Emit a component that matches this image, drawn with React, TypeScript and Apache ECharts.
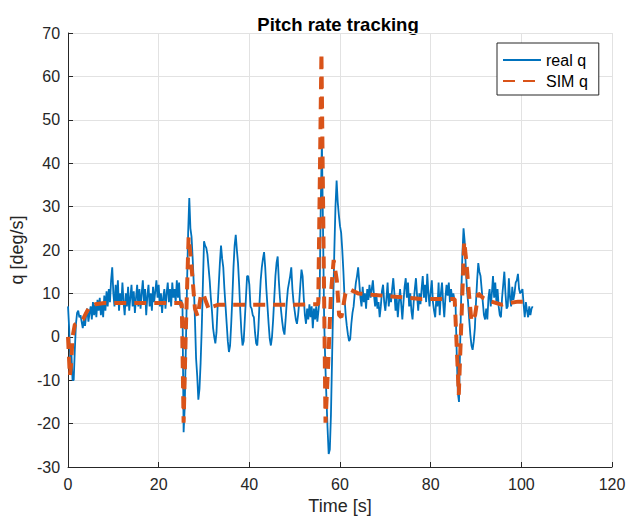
import React, { useEffect, useRef } from "react";
import * as echarts from "echarts";

const FONT = "'Liberation Sans', Arial, Helvetica, sans-serif";

const TITLE = "Pitch rate tracking";
const X_NAME = "Time [s]";
const Y_NAME = "q [deg/s]";
const SERIES_NAMES = ["real q", "SIM q"];

const X_MIN = 0;
const X_MAX = 120;
const X_STEP = 20;
const Y_MIN = -30;
const Y_MAX = 70;
const Y_STEP = 10;

// real q sampled every 0.25 s, from t = 0 s to t = 102.5 s
const TIME_STEP = 0.25;
const realQ = [
  7, 2, -6, -4, -10, -10, -3, 3, 5.5, 6, 4.5, 5, 3.5, 2, 4, 2.5, 5, 6.5, 3.5, 5.5,
  7, 4, 8, 5, 7.5, 4.5, 8.5, 6, 9, 5, 8, 4.5, 9.5, 6, 10.5, 7, 11, 8, 13, 16,
  10, 7, 12, 8, 13, 6, 10, 7.5, 12.5, 8, 5, 10, 7, 11.5, 6, 9, 12, 7, 10.5, 5.5,
  9, 12, 7, 11, 6.5, 10, 13, 8, 11, 5, 9.5, 12, 7, 10, 6, 11.5, 8, 10.5, 13, 9,
  12, 7, 10, 5.5, 9, 11, 6.5, 10, 12.5, 8, 11, 7, 12.5, 9, 11, 8, 13, 9, 12.5, 7,
  8.5, 7, -22, -16, -2, 12, 24, 32, 25, 23, 18, 12, 4, -5, -9, -14.5, -12, -6, 2, 12,
  22, 21, 20.5, 19, 16, 13, 9, 6, 2, 0, -1.5, 1, 7, 12, 17, 21, 18, 16, 11, 7,
  3, -1, -3.5, -2, 3, 9, 16, 21, 23.5, 20, 17, 12, 6, 1, -2, -1, 4, 9, 14, 14,
  12, 7, 6.5, 5, 4.5, 1, -1.5, -2, 2, 8, 13, 16, 18, 19.5, 16, 11, 7, 3, -0.5, -2,
  0, 4, 9, 14, 17, 18.5, 13, 9, 6, 3.5, 1.5, 0.5, 4, 8, 11, 12.5, 14, 16, 11, 8,
  6, 4, 3, 5, 8, 12, 15.5, 14, 9, 5, 3, 6.5, 4, 7.5, 4.5, 7, 2, 6.5, 4, 7,
  3.5, 6, 9, 30, 45, 25, 4, -6, -14, -21, -27, -26, -18, -5, 8, 20, 30, 36, 31, 28,
  25.5, 24, 20, 15, 9, 5, 2.5, 0.5, -1, -0.5, 3, 5.5, 7, 10, 12.5, 14, 16, 12.5, 9, 7,
  11.5, 8, 10, 6.5, 11, 8.5, 12, 9, 11, 13, 9.5, 7, 10, 6.5, 8, 4.5, 7, 10.5, 12, 8,
  6, 9, 12.5, 7, 10, 8, 11, 13.5, 10, 6, 9, 4.5, 8, 11, 7.5, 4, 8, 11.5, 13.5, 9,
  12.5, 7, 10, 6, 4, 8, 11, 13.5, 9.5, 6, 10, 7.5, 11, 14, 9, 12, 8, 14.5, 10, 7,
  10.5, 13, 8, 6, 4.5, 9, 7, 12.5, 5, 10, 12.5, 8, 4.5, 9, 12, 9.5, 12.5, 8, 11, 8.5,
  10, 8.5, 7, -4, -13, -15, -2, 10, 19, 25, 22, 16, 11, 8, 4, 0.5, -2, -3, -1, 2,
  8, 13, 17, 15, 14, 11, 8, 5, 4, 6.5, 4, 9, 11, 7, 10, 14, 9, 12.5, 8, 11,
  7, 5, 4.5, 9, 12, 15, 10, 6.5, 7, 13.5, 9, 7, 11.5, 8.5, 10, 12.5, 13, 14.5, 11, 10,
  10.5, 11, 7.5, 4.5, 8, 6, 4.5, 7, 5, 6.5, 7,
];

// SIM q: simulated response, sample times and values
const simTime = [
  0, 0.4, 0.7, 1.0, 1.5, 2.5, 3.3, 4.0, 4.8, 6, 8, 12, 16, 20, 24.8,
  25.1, 25.5, 26.0, 26.6, 27.0, 27.5, 28.0, 28.6, 29.3, 29.8, 30.3, 31.1, 32, 33.2, 40,
  50, 55.2, 55.9, 56.8, 57.4, 58.0, 58.6, 59.3, 59.8, 60.3, 61.2, 62.0, 64.0, 67, 71.4,
  78, 85.3, 86.2, 87.4, 87.9, 88.3, 89.0, 89.8, 90.5, 91.5, 93.4, 95.6, 97.5, 99.3, 101.8,
];
const simQ = [
  0, -9, -6, 0, 2.8, 3.5, 4, 5.5, 7, 7.5, 7.8, 7.8, 7.8, 7.8, 7.8,
  7.5, -19.8, 2, 23, 19, 13, 6.5, 4.7, 9.5, 10, 8.5, 6.2, 7, 7.4, 7.4,
  7.4, 7.5, 65.4, -19.8, -6, 10, 17.7, 13, 5, 4.5, 10, 11, 10, 9.7, 9.3,
  8.7, 8.7, -13.4, 22, 17, 11.6, 3.5, 5, 10, 9, 8.1, 7.4, 7.8, 8.1, 8.1,
];

const BLUE = "#0072BD";
const ORANGE = "#D95319";
const TEXT = "#262626";
const GRID = "#e2e2e2";

export default function App() {
  const ref = useRef<HTMLDivElement>(null);

  useEffect(() => {
    if (!ref.current) return;
    const chart = echarts.init(ref.current, undefined, { renderer: "svg" });
    const realData = realQ.map((q, i) => [i * TIME_STEP, q]);
    const simData = simTime.map((t, i) => [t, simQ[i]]);

    const axisCommon = {
      type: "value" as const,
      nameLocation: "middle" as const,
      nameTextStyle: { fontSize: 18, color: TEXT, fontFamily: FONT },
      axisLine: { show: true, onZero: false, lineStyle: { color: TEXT, width: 1 } },
      axisTick: { show: true, inside: true, length: 5, lineStyle: { color: TEXT, width: 1 } },
      axisLabel: { fontSize: 16, color: TEXT, fontFamily: FONT },
      splitLine: { show: true, lineStyle: { color: GRID, width: 1 } },
    };

    chart.setOption({
      animation: false,
      backgroundColor: "#ffffff",
      textStyle: { fontFamily: FONT },
      grid: { left: 65, right: 20, top: 33, bottom: 53, containLabel: false },
      xAxis: {
        ...axisCommon,
        min: X_MIN,
        max: X_MAX,
        interval: X_STEP,
        name: X_NAME,
        nameGap: 27,
        axisLabel: { ...axisCommon.axisLabel, margin: 9 },
      },
      yAxis: {
        ...axisCommon,
        min: Y_MIN,
        max: Y_MAX,
        interval: Y_STEP,
        name: Y_NAME,
        nameGap: 40,
        axisLabel: { ...axisCommon.axisLabel, margin: 8 },
      },
      legend: {
        orient: "vertical",
        left: 497,
        top: 43,
        padding: [9, 11, 6, 5],
        itemWidth: 38,
        itemHeight: 16,
        itemGap: 5,
        backgroundColor: "#ffffff",
        borderColor: TEXT,
        borderWidth: 1,
        borderRadius: 0,
        itemStyle: { opacity: 0 },
        textStyle: { fontSize: 16, color: "#000000", fontFamily: FONT },
        data: SERIES_NAMES,
      },
      graphic: [
        {
          type: "text",
          x: 338,
          y: 24,
          style: {
            text: TITLE,
            fill: "#000000",
            font: `bold 18.5px ${FONT}`,
            textAlign: "center",
            textVerticalAlign: "middle",
          },
        },
      ],
      series: [
        {
          name: SERIES_NAMES[0],
          type: "line",
          data: realData,
          showSymbol: false,
          symbol: "none",
          lineStyle: { color: BLUE, width: 1.8 },
          itemStyle: { color: BLUE },
          z: 2,
        },
        {
          name: SERIES_NAMES[1],
          type: "line",
          data: simData,
          showSymbol: false,
          symbol: "none",
          lineStyle: { color: ORANGE, width: 4, type: [12, 8] },
          itemStyle: { color: ORANGE },
          z: 3,
        },
      ],
    });
    return () => chart.dispose();
  }, []);

  return (
    <div
      ref={ref}
      style={{ position: "fixed", left: 0, top: 0, width: 632, height: 520, background: "#fff" }}
    />
  );
}
